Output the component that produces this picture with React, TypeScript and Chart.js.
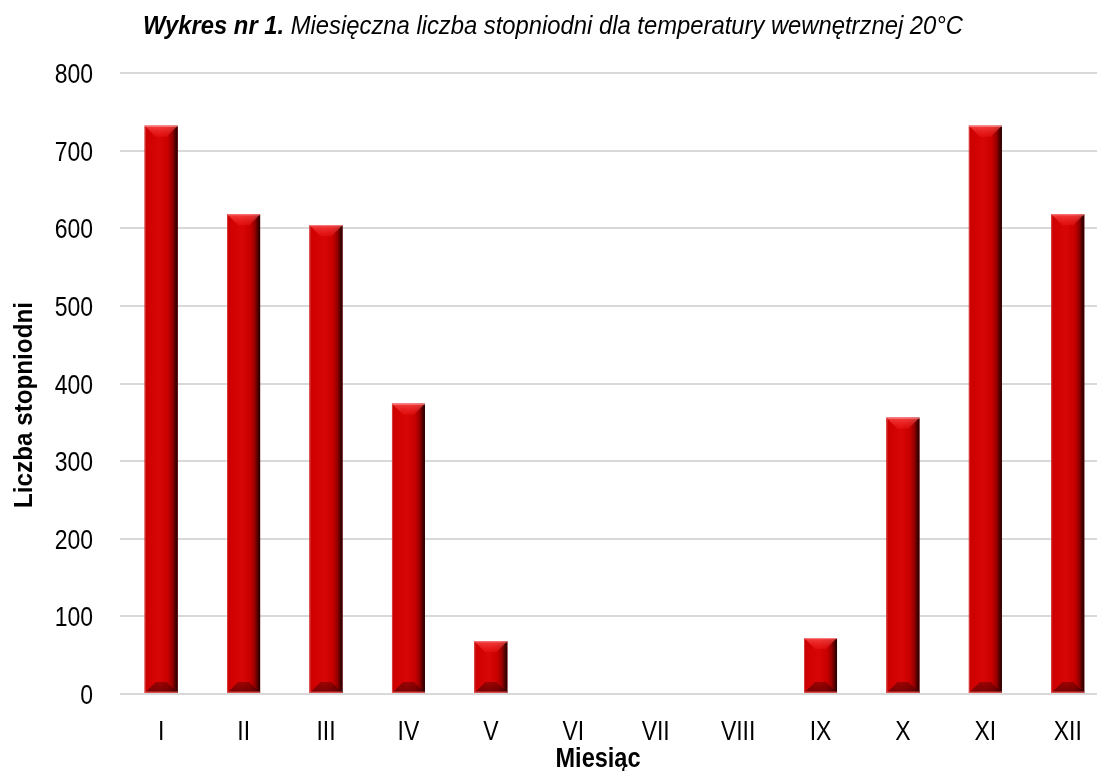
import React, { useEffect, useRef } from "react";
import { Chart, registerables } from "chart.js";

Chart.register(...registerables);

const months: string[] = ["I", "II", "III", "IV", "V", "VI", "VII", "VIII", "IX", "X", "XI", "XII"];
const degreeDays: number[] = [732, 618, 604, 374, 68, 0, 0, 0, 72, 356, 732, 618];
const titleBold = "Wykres nr 1.";
const titleRest = " Miesięczna liczba stopniodni dla temperatury wewnętrznej 20°C";
const yTitle = "Liczba stopniodni";
const xTitle = "Miesiąc";

const FAMILY = '"Liberation Sans", Arial, sans-serif';
const NARROW = 0.82;

const bevelPlugin = {
  id: "bevel",
  afterDatasetsDraw(chart: any) {
    const ctx = chart.ctx as CanvasRenderingContext2D;
    const meta = chart.getDatasetMeta(0);
    meta.data.forEach((bar: any) => {
      const { x, y, base, width } = bar.getProps(["x", "y", "base", "width"], true);
      const left = x - width / 2;
      const right = x + width / 2;
      const top = Math.min(y, base);
      const bottom = Math.max(y, base);
      const h = bottom - top;
      if (h < 1) return;
      ctx.save();
      const g = ctx.createLinearGradient(left, 0, right, 0);
      g.addColorStop(0, "#c00000");
      g.addColorStop(0.08, "#cf0000");
      g.addColorStop(0.45, "#d80606");
      g.addColorStop(0.7, "#c80000");
      g.addColorStop(0.84, "#960000");
      g.addColorStop(0.94, "#480000");
      g.addColorStop(1, "#200000");
      ctx.fillStyle = g;
      ctx.fillRect(left, top, width, h);
      const d = Math.min(11, h / 2, width / 2);
      // top bevel
      ctx.beginPath();
      ctx.moveTo(left, top);
      ctx.lineTo(right, top);
      ctx.lineTo(right - d, top + d);
      ctx.lineTo(left + d, top + d);
      ctx.closePath();
      const gt = ctx.createLinearGradient(0, top, 0, top + d);
      gt.addColorStop(0, "rgba(255,90,90,0.7)");
      gt.addColorStop(1, "rgba(255,40,40,0.25)");
      ctx.fillStyle = gt;
      ctx.fill();
      // bottom bevel
      ctx.beginPath();
      ctx.moveTo(left, bottom);
      ctx.lineTo(right, bottom);
      ctx.lineTo(right - d, bottom - d);
      ctx.lineTo(left + d, bottom - d);
      ctx.closePath();
      const gb = ctx.createLinearGradient(0, bottom - d, 0, bottom);
      gb.addColorStop(0, "rgba(50,0,0,0.35)");
      gb.addColorStop(1, "rgba(50,0,0,0.6)");
      ctx.fillStyle = gb;
      ctx.fill();
      // edges
      ctx.fillStyle = "rgba(255,140,140,0.85)";
      ctx.fillRect(left, top, width, 1);
      ctx.fillStyle = "rgba(240,90,90,0.8)";
      ctx.fillRect(left, bottom - 1.5, width, 1.5);
      ctx.fillStyle = "rgba(235,100,100,0.6)";
      ctx.fillRect(left, top, 1, h);
      ctx.restore();
    });
  },
};

function narrowText(ctx: CanvasRenderingContext2D, text: string, x: number, y: number, align: "left" | "center" | "right", sx: number) {
  const w = ctx.measureText(text).width * sx;
  let x0 = x;
  if (align === "center") x0 = x - w / 2;
  if (align === "right") x0 = x - w;
  ctx.save();
  ctx.translate(x0, y);
  ctx.scale(sx, 1);
  ctx.textAlign = "left";
  ctx.fillText(text, 0, 0);
  ctx.restore();
}

const textPlugin = {
  id: "texts",
  afterDraw(chart: any) {
    const ctx = chart.ctx as CanvasRenderingContext2D;
    const xs = chart.scales.x;
    const ys = chart.scales.y;
    ctx.save();
    ctx.fillStyle = "#000";
    ctx.textBaseline = "alphabetic";

    // tick labels
    ctx.font = `28px ${FAMILY}`;
    ys.ticks.forEach((t: any, i: number) => {
      const py = ys.getPixelForTick(i);
      narrowText(ctx, String(t.value), 93, py + 10, "right", NARROW);
    });
    months.forEach((m, i) => {
      const px = xs.getPixelForTick(i);
      narrowText(ctx, m, px, 740, "center", NARROW);
    });

    // chart title
    ctx.font = `italic bold 25px ${FAMILY}`;
    const bw = ctx.measureText(titleBold).width;
    ctx.font = `italic 25px ${FAMILY}`;
    const rw = ctx.measureText(titleRest).width;
    const tsx = 820 / (bw + rw);
    ctx.font = `italic bold 25px ${FAMILY}`;
    narrowText(ctx, titleBold, 143, 34, "left", tsx);
    ctx.font = `italic 25px ${FAMILY}`;
    narrowText(ctx, titleRest, 143 + bw * tsx, 34, "left", tsx);

    // axis titles
    ctx.font = `bold 27px ${FAMILY}`;
    const xw = ctx.measureText(xTitle).width;
    narrowText(ctx, xTitle, 598, 767, "center", 85 / xw);

    ctx.font = `bold 25px ${FAMILY}`;
    const yw = ctx.measureText(yTitle).width;
    ctx.translate(32, 405);
    ctx.rotate(-Math.PI / 2);
    narrowText(ctx, yTitle, 0, 0, "center", 206 / yw);
    ctx.restore();
  },
};

export default function App() {
  const ref = useRef<HTMLCanvasElement | null>(null);
  useEffect(() => {
    if (!ref.current) return;
    const chart = new Chart(ref.current, {
      type: "bar",
      data: {
        labels: months,
        datasets: [
          {
            data: degreeDays,
            backgroundColor: "#cc0000",
            borderWidth: 0,
            barPercentage: 0.4,
            categoryPercentage: 1,
          },
        ],
      },
      options: {
        animation: false,
        responsive: false,
        layout: { padding: { top: 73, left: 0, right: 0, bottom: 0 } },
        plugins: { legend: { display: false }, tooltip: { enabled: false }, title: { display: false } },
        scales: {
          x: {
            grid: { display: false, drawTicks: false },
            border: { display: false },
            ticks: { display: false },
            afterFit: (s: any) => {
              s.height = 77;
            },
          },
          y: {
            min: 0,
            max: 800,
            grid: { color: "#d9d9d9", lineWidth: 2, drawTicks: false },
            border: { display: false },
            ticks: { display: false, stepSize: 100 },
            afterFit: (s: any) => {
              s.width = 120;
            },
          },
        },
      },
      plugins: [bevelPlugin, textPlugin],
    });
    return () => chart.destroy();
  }, []);
  return (
    <div style={{ position: "fixed", left: 0, top: 0, width: 1097, height: 771, overflow: "hidden", background: "#fff" }}>
      <canvas ref={ref} width={1109} height={771} style={{ display: "block" }} />
    </div>
  );
}
